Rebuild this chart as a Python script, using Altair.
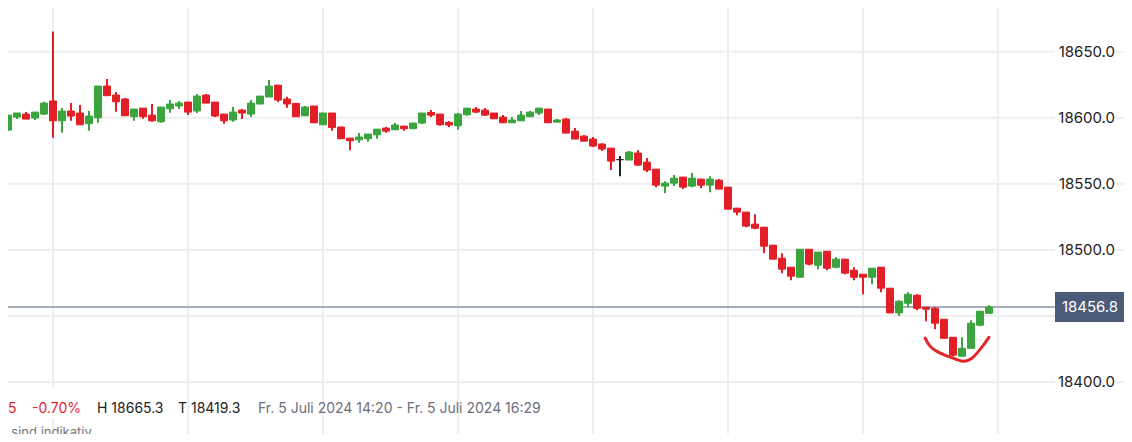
import altair as alt
import pandas as pd

# ---------------- data ----------------
start_minute = 14 * 60 + 39  # first visible 1-minute candle (14:39)

opens = [18593.2, 18590.7, 18600.5, 18602.8, 18599.8, 18602.8, 18612.7, 18597.7, 18605.1, 18603.6,
         18595.5, 18600.0, 18624.0, 18617.2, 18614.2, 18600.8, 18607.3, 18602.0, 18597.0, 18606.8,
         18608.9, 18611.9, 18605.1, 18617.2, 18611.9, 18602.8, 18598.3, 18605.8, 18602.8, 18610.4,
         18615.7, 18624.7, 18614.2, 18610.9, 18601.5, 18608.9, 18594.7, 18603.6, 18593.0, 18584.6,
         18583.3, 18584.1, 18587.1, 18592.2, 18590.9, 18593.7, 18591.7, 18596.0, 18604.0, 18602.8,
         18596.5, 18593.9, 18602.3, 18606.6, 18605.8, 18603.6, 18600.5, 18596.2, 18597.7, 18600.8,
         18603.6, 18606.6, 18596.7, 18599.0, 18589.9, 18586.1, 18583.9, 18580.1, 18577.0, 18568.3,
         18568.0, 18573.3, 18566.4, 18561.1, 18548.3, 18550.5, 18555.1, 18548.3, 18553.6, 18549.0,
         18552.8, 18547.5, 18531.6, 18528.6, 18519.5, 18517.2, 18503.6, 18493.7, 18486.9, 18479.3,
         18500.5, 18488.4, 18499.0, 18486.9, 18493.0, 18484.6, 18481.6, 18479.3, 18486.9, 18471.0,
         18452.3, 18459.6, 18465.7, 18456.6, 18455.8, 18447.5, 18433.9, 18419.5, 18425.5, 18443.0,
         18452.0]

highs = [18593.2, 18602.0, 18603.6, 18604.3, 18604.3, 18612.1, 18665.3, 18607.3, 18611.1, 18609.6,
         18605.1, 18624.0, 18629.3, 18619.5, 18614.9, 18606.6, 18607.3, 18610.4, 18608.1, 18613.4,
         18612.7, 18611.9, 18618.0, 18618.0, 18611.9, 18602.8, 18608.1, 18606.6, 18613.4, 18616.4,
         18628.6, 18624.7, 18615.9, 18610.9, 18608.9, 18608.9, 18603.6, 18603.6, 18593.0, 18584.6,
         18588.4, 18587.7, 18591.4, 18593.0, 18596.0, 18593.7, 18596.0, 18603.6, 18605.8, 18602.8,
         18597.3, 18603.6, 18607.3, 18608.1, 18607.3, 18603.6, 18602.0, 18600.5, 18605.1, 18605.1,
         18607.3, 18606.6, 18599.0, 18599.8, 18592.2, 18586.9, 18585.4, 18580.8, 18577.0, 18571.0,
         18574.8, 18575.5, 18569.5, 18561.1, 18552.0, 18556.6, 18555.1, 18558.1, 18553.6, 18555.8,
         18553.6, 18547.5, 18531.6, 18528.6, 18527.0, 18517.2, 18503.6, 18497.5, 18486.9, 18500.5,
         18500.5, 18498.3, 18499.0, 18494.5, 18493.0, 18486.9, 18481.6, 18486.1, 18486.9, 18471.0,
         18461.9, 18468.0, 18466.4, 18456.6, 18456.6, 18447.5, 18433.9, 18433.9, 18446.7, 18453.6,
         18458.1]

lows = [18590.2, 18590.2, 18599.0, 18599.0, 18598.3, 18602.0, 18584.8, 18588.6, 18597.7, 18594.7,
        18590.2, 18596.2, 18616.7, 18604.5, 18601.5, 18597.7, 18599.2, 18597.0, 18596.2, 18603.8,
        18606.6, 18602.0, 18603.6, 18611.1, 18600.5, 18595.5, 18597.0, 18599.0, 18600.5, 18610.4,
        18615.7, 18611.9, 18607.6, 18600.8, 18601.5, 18596.2, 18594.7, 18590.2, 18584.1, 18575.5,
        18581.1, 18581.8, 18584.1, 18588.6, 18590.9, 18590.2, 18591.7, 18595.2, 18600.5, 18593.9,
        18593.0, 18590.9, 18601.5, 18603.6, 18601.3, 18599.2, 18596.2, 18596.2, 18597.7, 18600.8,
        18602.0, 18596.2, 18596.7, 18588.4, 18583.9, 18582.3, 18577.8, 18574.8, 18560.4, 18555.8,
        18568.0, 18563.4, 18558.9, 18547.5, 18542.9, 18548.3, 18546.0, 18547.5, 18546.7, 18543.7,
        18546.0, 18530.8, 18526.3, 18517.2, 18515.7, 18497.5, 18493.0, 18482.4, 18477.1, 18479.3,
        18488.4, 18485.4, 18484.6, 18486.1, 18481.6, 18477.1, 18466.4, 18474.0, 18468.0, 18452.3,
        18450.0, 18456.6, 18454.3, 18446.0, 18440.0, 18433.1, 18419.3, 18419.5, 18425.5, 18442.2,
        18452.0]

closes = [18590.2, 18602.0, 18603.6, 18599.0, 18604.3, 18611.1, 18597.7, 18605.1, 18601.3, 18594.7,
          18601.3, 18624.0, 18616.7, 18612.1, 18601.5, 18606.6, 18600.8, 18597.7, 18608.1, 18610.4,
          18611.1, 18604.3, 18616.4, 18611.1, 18601.3, 18597.7, 18604.3, 18603.6, 18611.1, 18616.4,
          18624.0, 18613.4, 18610.4, 18600.8, 18608.1, 18596.2, 18603.6, 18592.7, 18584.1, 18582.6,
          18585.4, 18587.7, 18591.4, 18589.9, 18594.5, 18591.7, 18596.0, 18603.6, 18602.0, 18594.7,
          18594.5, 18602.8, 18607.3, 18604.3, 18602.0, 18599.2, 18596.2, 18598.3, 18602.0, 18604.3,
          18607.3, 18596.2, 18598.3, 18588.4, 18583.9, 18582.3, 18578.6, 18576.3, 18567.2, 18568.3,
          18574.0, 18564.2, 18560.4, 18549.0, 18550.5, 18554.3, 18547.5, 18554.3, 18549.0, 18553.6,
          18546.0, 18530.8, 18528.6, 18518.0, 18516.4, 18502.8, 18493.0, 18485.4, 18480.1, 18500.5,
          18489.2, 18498.3, 18486.1, 18493.0, 18482.4, 18479.3, 18479.3, 18486.1, 18471.0, 18452.3,
          18461.1, 18466.4, 18455.8, 18455.1, 18444.5, 18433.1, 18420.3, 18425.5, 18444.5, 18453.6,
          18456.8]

last_price = 18456.8
price_ticks = [18400, 18450, 18500, 18550, 18600, 18650]
time_grid = [885, 900, 915, 930, 945, 960, 975, 990]  # 14:45 ... 16:30 in minutes

# hand-drawn red annotation under the last candles (minute, price)
note_m = [981.9, 982.4, 983.2, 984.3, 985.4, 986.2, 987.1, 987.8, 988.4, 989.0]
note_v = [18433.3, 18426.7, 18422.9, 18419.7, 18417.2, 18414.9, 18417.2, 18422.9, 18428.0, 18433.8]

info_texts = ["5", "-0.70%", "H 18665.3", "T 18419.3",
              "Fr. 5 Juli 2024 14:20 - Fr. 5 Juli 2024 16:29"]
info_colors = ["#e0262c", "#e0262c", "#222222", "#222222", "#6e6e7c"]
footer_text = "n sind indikativ"

# ---------------- layout ----------------
W, H = 1116, 426
PX_PER_PT = 1.3212
y_hi = 18683.08
y_lo = y_hi - H / PX_PER_PT
x_lo = 880
x_hi = x_lo + W / 9.0

n = len(opens)
minutes = [start_minute + i for i in range(n)]
times = [f"{m // 60}:{m % 60:02d}" for m in minutes]
dirs = ["up" if c > o else ("down" if c < o else "flat") for o, c in zip(opens, closes)]

df = pd.DataFrame({"time": times, "m": minutes, "open": opens, "high": highs,
                   "low": lows, "close": closes, "dir": dirs})

xs = alt.Scale(domain=[x_lo, x_hi], nice=False, zero=False, padding=0)
ys = alt.Scale(domain=[y_lo, y_hi], nice=False, zero=False, padding=0)
dir_scale = alt.Scale(domain=["up", "down", "flat"], range=["#3aa43e", "#e21f26", "#222222"])

FONT = "Inter"

vgrid = alt.Chart(pd.DataFrame({"m": time_grid})).mark_rule(
    color="#eeeeee", strokeWidth=2).encode(
    x=alt.X("m:Q", scale=xs, axis=None), y=alt.value(0), y2=alt.value(H))

tick_df = pd.DataFrame({"v": price_ticks})
hgrid_a = alt.Chart(tick_df).mark_rule(color="#eeeeee", strokeWidth=2).encode(
    y=alt.Y("v:Q", scale=ys, axis=None), x=alt.value(0), x2=alt.value(1047))
hgrid_b = alt.Chart(tick_df).mark_rule(color="#eeeeee", strokeWidth=2).encode(
    y=alt.Y("v:Q", scale=ys, axis=None), x=alt.value(1107), x2=alt.value(W))

# white band behind the change figures in the info row
info_bg = alt.Chart(pd.DataFrame({"m": [0]})).mark_rect(color="white").encode(
    x=alt.value(0), x2=alt.value(76), y=alt.value(380), y2=alt.value(410))

price_df = pd.DataFrame({"v": [last_price], "label": [f"{last_price:.1f}"]})
price_line = alt.Chart(price_df).mark_rule(color="#a6aebb", strokeWidth=2).encode(
    y=alt.Y("v:Q", scale=ys, axis=None), x=alt.value(0), x2=alt.value(1060))

base = alt.Chart(df)
wicks = base.mark_rule(strokeWidth=2).encode(
    x=alt.X("m:Q", scale=xs, axis=None),
    y=alt.Y("low:Q", scale=ys, axis=None), y2="high:Q",
    color=alt.Color("dir:N", scale=dir_scale, legend=None))
bodies = base.mark_bar(width=7, strokeWidth=1).encode(
    x=alt.X("m:Q", scale=xs, axis=None),
    y=alt.Y("open:Q", scale=ys, axis=None), y2="close:Q",
    color=alt.Color("dir:N", scale=dir_scale, legend=None),
    stroke=alt.Stroke("dir:N", scale=dir_scale, legend=None),
    tooltip=["time", "open", "high", "low", "close"])

note = alt.Chart(pd.DataFrame({"m": note_m, "v": note_v, "o": list(range(len(note_m)))})).mark_line(
    color="#e3242b", strokeWidth=3, interpolate="basis", strokeCap="round").encode(
    x=alt.X("m:Q", scale=xs, axis=None), y=alt.Y("v:Q", scale=ys, axis=None), order="o:Q")

axis_labels = alt.Chart(tick_df).mark_text(
    align="right", baseline="middle", font=FONT, fontSize=15, color="#222222").encode(
    y=alt.Y("v:Q", scale=ys, axis=None), x=alt.value(1107),
    text=alt.Text("v:Q", format=".1f"))

box = alt.Chart(price_df).mark_point(
    shape="M-1,-0.43L1,-0.43L1,0.43L-1,0.43Z", size=70 * 70, filled=True,
    color="#4a5a79", opacity=1, strokeWidth=0).encode(
    y=alt.Y("v:Q", scale=ys, axis=None), x=alt.value(1082))
box_text = alt.Chart(price_df).mark_text(
    align="center", baseline="middle", font=FONT, fontSize=15, color="white").encode(
    y=alt.Y("v:Q", scale=ys, axis=None), x=alt.value(1082), text="label:N")

info_x = [0, 24, 89, 170, 250]
info_layers = []
for t, c, px in zip(info_texts, info_colors, info_x):
    info_layers.append(
        alt.Chart(pd.DataFrame({"t": [t]})).mark_text(
            align="left", baseline="middle", font=FONT, fontSize=14, color=c).encode(
            x=alt.value(px), y=alt.value(401), text="t:N"))
footer = alt.Chart(pd.DataFrame({"t": [footer_text]})).mark_text(
    align="left", baseline="middle", font=FONT, fontSize=13, color="#777777").encode(
    x=alt.value(-8), y=alt.value(425), text="t:N")

chart = alt.layer(
    vgrid, hgrid_a, hgrid_b, info_bg, price_line, wicks, bodies, note,
    axis_labels, box, box_text, *info_layers, footer
).properties(
    width=W, height=H, padding=0,
    autosize=alt.AutoSizeParams(type="none"),
    background="white"
).configure_view(stroke=None)

chart.save("out.html", embed_options={"renderer": "svg", "actions": False})
